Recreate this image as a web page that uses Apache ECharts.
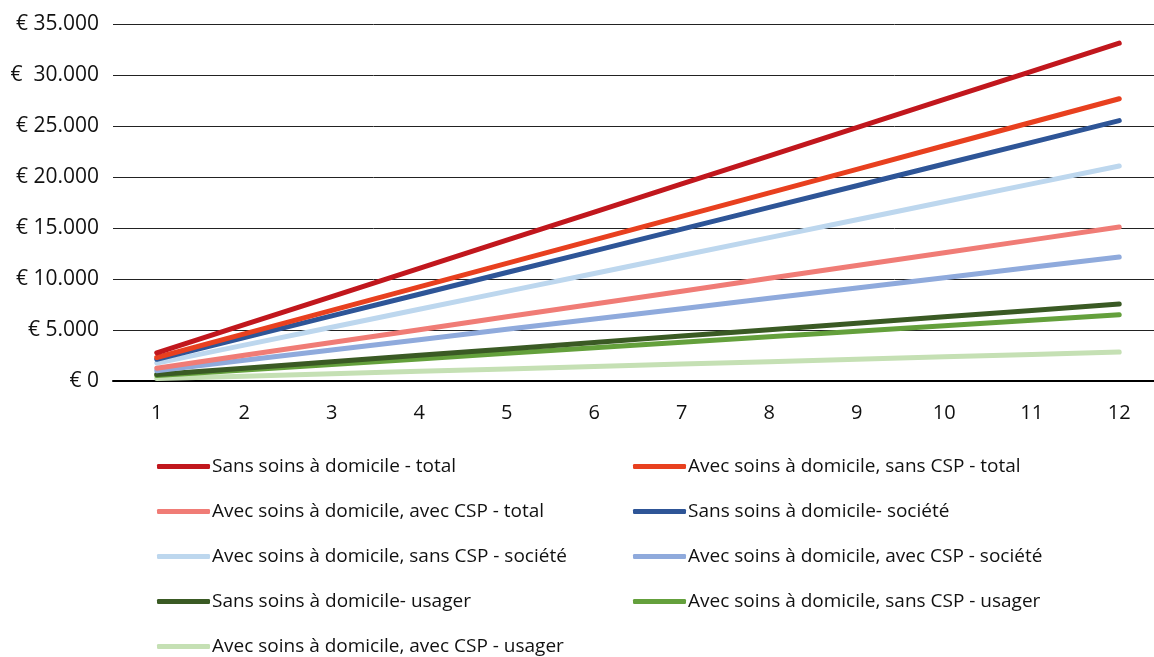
<!DOCTYPE html>
<html><head><meta charset="utf-8">
<script src="https://cdn.jsdelivr.net/npm/echarts@6/dist/echarts.min.js"></script>
<style>html,body{margin:0;padding:0;background:#fff}#c{width:1154px;height:657px}</style>
</head><body><div id="c"></div>
<script>
const categories = ['1','2','3','4','5','6','7','8','9','10','11','12'];
const yTickLabels = {0:'€ 0',5000:'€ 5.000',10000:'€ 10.000',15000:'€ 15.000',20000:'€ 20.000',25000:'€ 25.000',30000:'€  30.000',35000:'€ 35.000'};

const sansTotal      = [2760,5520,8280,11040,13800,16560,19320,22080,24840,27600,30360,33120];
const avecSansTotal  = [2306,4612,6918,9224,11530,13836,16142,18448,20754,23060,25366,27672];
const avecAvecTotal  = [1258,2516,3774,5032,6290,7548,8806,10064,11322,12580,13838,15096];
const sansSociete    = [2127,4254,6381,8508,10635,12762,14889,17016,19143,21270,23397,25524];
const avecSansSoc    = [1757,3514,5271,7028,8785,10542,12299,14056,15813,17570,19327,21084];
const avecAvecSoc    = [1013,2026,3039,4052,5065,6078,7091,8104,9117,10130,11143,12156];
const sansUsager     = [629,1258,1887,2516,3145,3774,4403,5032,5661,6290,6919,7548];
const avecSansUsager = [542,1084,1626,2168,2710,3252,3794,4336,4878,5420,5962,6504];
const avecAvecUsager = [237,474,711,948,1185,1422,1659,1896,2133,2370,2607,2844];

const names = [
 'Sans soins à domicile - total',
 'Avec soins à domicile, sans CSP - total',
 'Avec soins à domicile, avec CSP - total',
 'Sans soins à domicile- société',
 'Avec soins à domicile, sans CSP - société',
 'Avec soins à domicile, avec CSP - société',
 'Sans soins à domicile- usager',
 'Avec soins à domicile, sans CSP - usager',
 'Avec soins à domicile, avec CSP - usager'
];
const datas = [sansTotal, avecSansTotal, avecAvecTotal, sansSociete, avecSansSoc, avecAvecSoc, sansUsager, avecSansUsager, avecAvecUsager];
const colors = ['#C1171D','#E8401F','#F07C76','#2E5597','#BDD7EE','#8FAADC','#3A5A24','#64A03C','#C5E0B4'];

const font = "'Open Sans', sans-serif";
const chart = echarts.init(document.getElementById('c'));
const legendCommon = {
  orient:'vertical', icon:'roundRect', itemWidth:53, itemHeight:5, itemGap:26, padding:0,
  height:230,
  textStyle:{fontFamily:font, fontSize:19, color:'#111', padding:[0,0,0,-3]}, top:457
};
chart.setOption({
  animation:false,
  color: colors,
  grid:{left:113, right:-9, top:24, bottom:276, containLabel:false, outerBoundsMode:'none'},
  legend:[
    Object.assign({left:157, data:[names[0],names[2],names[4],names[6],names[8]]}, legendCommon),
    Object.assign({left:633, data:[names[1],names[3],names[5],names[7]]}, legendCommon)
  ],
  xAxis:{type:'category', data:categories, boundaryGap:true,
    axisLine:{lineStyle:{color:'#000', width:2}}, axisTick:{show:false},
    axisLabel:{fontFamily:font, fontSize:20, color:'#111', margin:22}},
  yAxis:{type:'value', min:0, max:35000, interval:5000,
    axisLine:{show:false}, axisTick:{show:false},
    splitLine:{lineStyle:{color:'#222', width:1}},
    axisLabel:{fontFamily:font, fontSize:21, color:'#111', margin:14, formatter:v=>yTickLabels[v]}},
  series: names.map((n,i)=>({name:n, type:'line', data:datas[i], symbol:'none', z:10-i,
    lineStyle:{width:5, color:colors[i], cap:'round'}, itemStyle:{color:colors[i]}}))
});
</script></body></html>
